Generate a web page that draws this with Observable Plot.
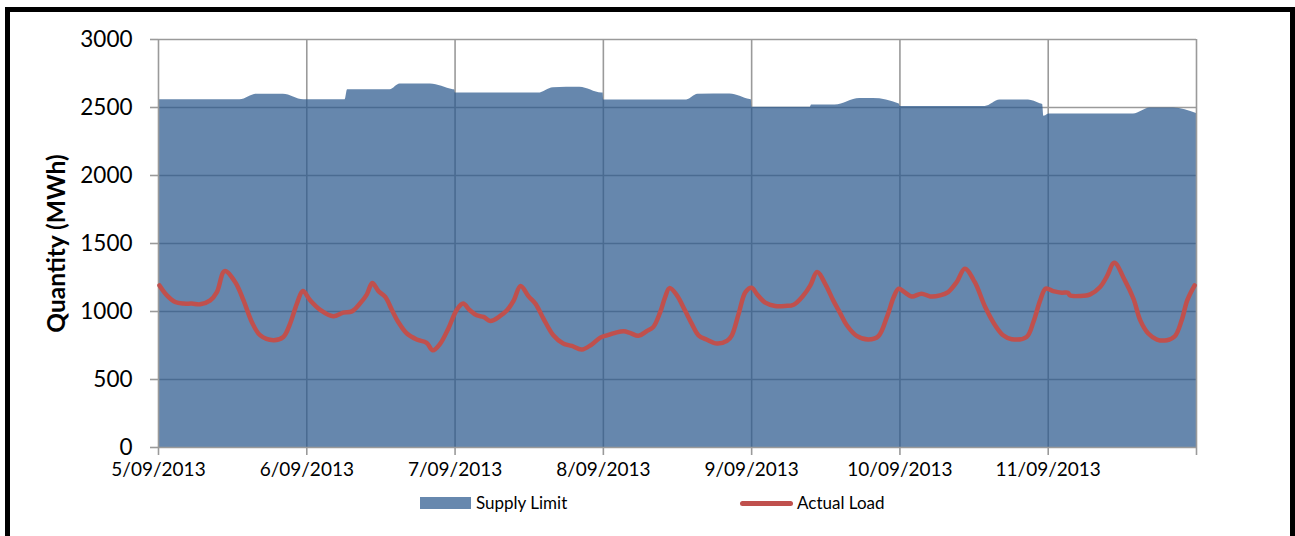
<!DOCTYPE html>
<html>
<head>
<meta charset="utf-8">
<script src="https://cdn.jsdelivr.net/npm/d3@7"></script>
<script src="https://cdn.jsdelivr.net/npm/@observablehq/plot@0.6"></script>
<style>
  html, body { margin: 0; padding: 0; background: #fff; overflow: hidden; }
  body { width: 1295px; height: 536px; position: relative; font-family: Lato, "Open Sans", sans-serif; }
  #frame { position: absolute; left: 5px; top: 7px; width: 1280px; height: 560px;
           border-left: 5px solid #000; border-top: 5px solid #000; border-right: 5px solid #000; }
  #chart { position: absolute; left: 0; top: 0; }
  #legend { position: absolute; left: 0; top: 0; width: 1295px; height: 536px; pointer-events: none; }
  .sw-area { position: absolute; left: 420px; top: 497px; width: 51px; height: 12px; background: #6788AE; }
  .sw-line { position: absolute; left: 740px; top: 501px; width: 53px; height: 5px; border-radius: 3px; background: #C0504D; }
  .lg-text { position: absolute; top: 492px; font-size: 17px; line-height: 22px; color: #000; }
</style>
</head>
<body>
<div id="frame"></div>
<div id="chart"></div>
<div id="legend">
  <div class="sw-area"></div><div class="lg-text" id="lg1" style="left:476px"></div>
  <div class="sw-line"></div><div class="lg-text" id="lg2" style="left:797px"></div>
</div>
<script>
// ---- Data (hours after 5/09/2013 00:00) ----
const seriesNames = ["Supply Limit", "Actual Load"];
const yAxisTitle = "Quantity (MWh)";
const dayTickLabels = ["5/09/2013", "6/09/2013", "7/09/2013", "8/09/2013", "9/09/2013", "10/09/2013", "11/09/2013", ""];
const yTickValues = [0, 500, 1000, 1500, 2000, 2500, 3000];

const supplyHours = [0, 13.2, 15.9, 20.2, 23.5, 24,
  30.2, 30.6, 37.5, 39.1, 44, 47.7, 47.95,
  48.05, 61.5, 63.9, 68.2, 71.75, 71.95,
  72.05, 85.5, 87.3, 92.5, 95.75, 95.95,
  96.05, 105.5, 105.7, 109.5, 113.5, 115.7, 119.9,
  120.05, 133.8, 136.2, 140.8, 142.7, 143.1, 143.3, 143.9,
  144.05, 157.8, 160.5, 164.3, 168];
const supplyMW = [2557, 2557, 2598, 2598, 2557, 2557,
  2557, 2630, 2630, 2672, 2672, 2630, 2628,
  2606, 2606, 2646, 2648, 2606, 2606,
  2556, 2556, 2597, 2600, 2558, 2556,
  2502, 2502, 2518, 2518, 2566, 2566, 2525,
  2508, 2508, 2555, 2555, 2528, 2522, 2435, 2448,
  2452, 2452, 2496, 2496, 2456];

const loadHours = [0.16, 1.36, 2.7, 4.05, 5.4, 6.75, 8.37, 9.45, 10.7, 12.4, 13.76, 15.1, 16.46, 18.6, 20.2, 21.3, 22.4, 23.37,
  24.55, 26.17, 28.3, 29.9, 31.3, 32.6, 33.7, 34.6, 35.6, 36.7, 37.8, 38.8, 40.2, 41.8, 43.4, 44.4, 45.6, 46.9, 48.3,
  49.3, 50.4, 51.5, 52.6, 53.7, 55.3, 56.4, 57.5, 58.6, 59.9, 61, 62.3, 63.9, 65.5, 66.9, 68.5, 70.1, 71.5,
  72.6, 73.9, 75.3, 76.3, 77.7, 79, 80.1, 81.2, 82.0, 82.7, 83.9, 85.2, 86.3, 87.4, 88.7, 90.4, 92, 92.8, 93.9, 95,
  96, 96.8, 98.2, 99.8, 101.4, 102.8, 104.4, 105.5, 106.6, 107.9, 109.2, 110.3, 111.4, 113, 114.9, 116.5, 117.9, 119,
  119.8, 120.7, 121.9, 123.5, 124.9, 126.5, 127.8, 129.2, 130.5, 132.1, 133.8, 135.4, 136.7, 138.1, 140.5, 141.6, 142.7,
  143.6, 144.8, 146.2, 147.2, 147.5, 149.2, 150.8, 152.4, 153.5, 154.7, 156.4, 157.8, 158.9, 160.2, 161.6, 163.2, 164.5,
  165.6, 166.5, 167.7];
const loadMW = [1192, 1119, 1070, 1058, 1058, 1053, 1082, 1143, 1297, 1217, 1082, 923, 825, 789, 813, 911, 1058, 1150,
  1082, 1012, 965, 992, 1001, 1058, 1124, 1209, 1150, 1107, 1009, 923, 838, 794, 769, 715, 764, 874, 1014,
  1058, 1009, 972, 960, 930, 967, 1009, 1082, 1187, 1111, 1058, 948, 825, 764, 747, 720, 757, 808,
  825, 843, 855, 843, 821, 855, 887, 995, 1106, 1172, 1119, 1009, 911, 825, 794, 764, 784, 825, 984, 1143,
  1175, 1131, 1065, 1041, 1041, 1050, 1119, 1192, 1290, 1204, 1082, 990, 899, 821, 794, 818, 960, 1107,
  1168, 1143, 1111, 1131, 1111, 1119, 1143, 1217, 1314, 1217, 1033, 899, 825, 796, 813, 923, 1082,
  1168, 1150, 1138, 1138, 1119, 1114, 1126, 1180, 1258, 1358, 1229, 1094, 935, 838, 794, 789, 818,
  935, 1082, 1192];

// ---- Build tables ----
const t0 = Date.UTC(2013, 8, 5);
const toDate = h => new Date(t0 + h * 3600000);
const supply = supplyHours.map((h, i) => ({date: toDate(h), mw: supplyMW[i]}));
const load = loadHours.map((h, i) => ({date: toDate(h), mw: loadMW[i]}));
const dayTicks = dayTickLabels.map((_, i) => toDate(i * 24));
const labelByTime = new Map(dayTicks.map((d, i) => [+d, dayTickLabels[i]]));

const gridGray = "#9a9a9a";
const innerDays = dayTicks.slice(1, -1);
const edgeDays = [dayTicks[0], dayTicks[dayTicks.length - 1]];

const chart = Plot.plot({
  width: 1295,
  height: 480,
  marginLeft: 158,
  marginRight: 99,
  marginTop: 39,
  marginBottom: 33,
  style: {background: "transparent", fontFamily: "Lato, 'Open Sans', sans-serif", overflow: "visible"},
  x: {type: "utc", domain: [toDate(0), toDate(168)]},
  y: {domain: [0, 3000]},
  marks: [
    Plot.gridY([500, 1000, 1500, 2000, 2500], {stroke: gridGray, strokeOpacity: 1, strokeWidth: 1.6}),
    Plot.gridX(innerDays, {stroke: gridGray, strokeOpacity: 1, strokeWidth: 1.6}),
    Plot.areaY(supply, {x: "date", y: "mw", fill: "#2B598E", fillOpacity: 0.72, curve: "monotone-x"}),
    Plot.gridY([3000], {stroke: gridGray, strokeOpacity: 1, strokeWidth: 1.6}),
    Plot.gridX(edgeDays, {stroke: gridGray, strokeOpacity: 1, strokeWidth: 1.6}),
    Plot.ruleY([0], {stroke: gridGray, strokeWidth: 1.6}),
    Plot.lineY(load, {x: "date", y: "mw", stroke: "#C0504D", strokeWidth: 4.5, curve: "catmull-rom",
      strokeLinejoin: "round", strokeLinecap: "round"}),
    Plot.axisY(yTickValues, {tickSize: 8, tickPadding: 18, fontSize: 22.5, stroke: gridGray, fill: "#000",
      strokeWidth: 1.6, label: null, tickFormat: d => String(d)}),
    Plot.axisX(dayTicks, {tickSize: 8, tickPadding: 7, fontSize: 19, stroke: gridGray, fill: "#000",
      strokeWidth: 1.6, label: null, tickFormat: d => labelByTime.get(+d) ?? ""}),
    Plot.text([yAxisTitle], {frameAnchor: "left", dx: -101, rotate: -90, text: d => d, textAnchor: "middle",
      fontSize: 24.5, fontWeight: "bold", fill: "#000"})
  ]
});
document.getElementById("chart").appendChild(chart);
document.getElementById("lg1").textContent = seriesNames[0];
document.getElementById("lg2").textContent = seriesNames[1];
</script>
</body>
</html>
